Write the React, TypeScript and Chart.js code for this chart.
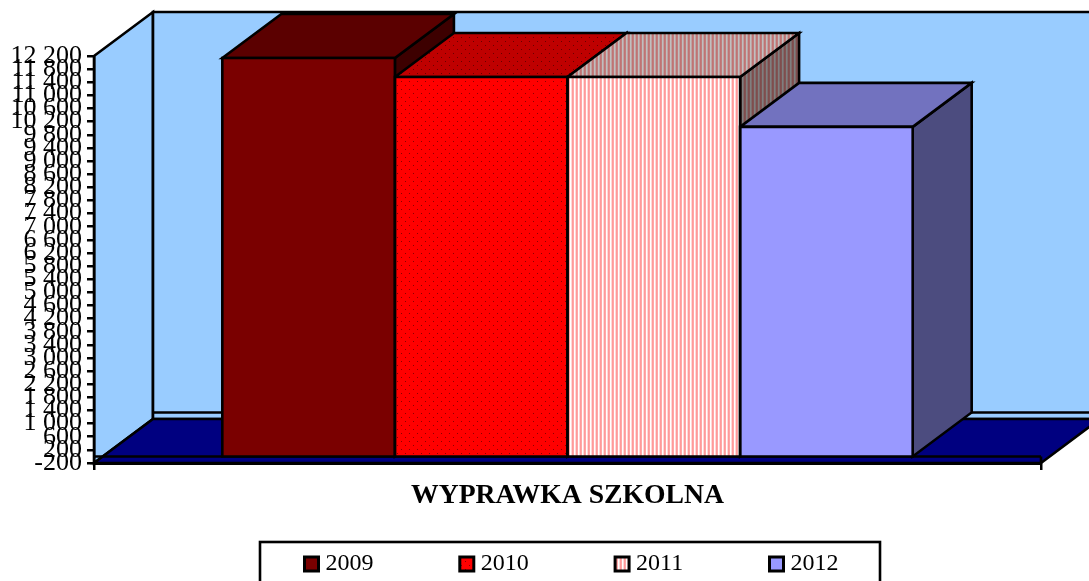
import React, { useEffect, useRef } from "react";
import { Chart, registerables } from "chart.js";

Chart.register(...registerables);

const categories = ["WYPRAWKA SZKOLNA"];
const seriesNames = ["2009", "2010", "2011", "2012"];
const values2009 = [12140];
const values2010 = [11560];
const values2011 = [11560];
const values2012 = [10040];
const axisMin = -200;
const axisMax = 12200;
const axisStep = 400;

const FONT = "'Liberation Serif', serif";
const DX = 59;
const DY = -44;
const LINE = 2.6;

function dotPattern(): CanvasPattern {
  const c = document.createElement("canvas");
  c.width = 8;
  c.height = 8;
  const x = c.getContext("2d")!;
  x.fillStyle = "#ff0000";
  x.fillRect(0, 0, 8, 8);
  x.fillStyle = "#8a0000";
  x.fillRect(1, 1, 1, 1);
  x.fillRect(5, 5, 1, 1);
  return x.createPattern(c, "repeat")!;
}

function stripePattern(): CanvasPattern {
  const c = document.createElement("canvas");
  c.width = 4;
  c.height = 1;
  const x = c.getContext("2d")!;
  ["#ff9a9a", "#ffa8a8", "#ffffff", "#ffd8d8"].forEach((col, i) => {
    x.fillStyle = col;
    x.fillRect(i, 0, 1, 1);
  });
  return x.createPattern(c, "repeat")!;
}

function poly(ctx: CanvasRenderingContext2D, pts: number[][], fill?: any, shade = 0, stroke = true) {
  ctx.beginPath();
  pts.forEach((p, i) => (i ? ctx.lineTo(p[0], p[1]) : ctx.moveTo(p[0], p[1])));
  ctx.closePath();
  if (fill) {
    ctx.fillStyle = fill;
    ctx.fill();
    if (shade) {
      ctx.fillStyle = `rgba(0,0,0,${shade})`;
      ctx.fill();
    }
  }
  if (stroke) {
    ctx.lineWidth = LINE;
    ctx.strokeStyle = "#000";
    ctx.lineJoin = "miter";
    ctx.stroke();
  }
}

const walls = {
  id: "walls3d",
  beforeDraw(chart: any) {
    const { ctx, chartArea, scales } = chart;
    const y = scales.y;
    const l = chartArea.left;
    const r = chartArea.right;
    const yTop = y.getPixelForValue(axisMax);
    const yBot = y.getPixelForValue(axisMin);
    const yZero = y.getPixelForValue(0);
    ctx.save();
    ctx.fillStyle = "#fff";
    ctx.fillRect(0, 0, chart.width, chart.height);
    // left wall
    poly(ctx, [[l, yTop], [l + DX, yTop + DY], [l + DX, yBot + DY], [l, yBot]], "#99ccff");
    // back wall
    poly(ctx, [[l + DX, yTop + DY], [r + DX, yTop + DY], [r + DX, yBot + DY], [l + DX, yBot + DY]], "#99ccff");
    // back wall base line
    ctx.beginPath();
    ctx.moveTo(l + DX, yZero + DY);
    ctx.lineTo(r + DX, yZero + DY);
    ctx.lineWidth = LINE;
    ctx.strokeStyle = "#000";
    ctx.stroke();
    // floor
    poly(ctx, [[l, yBot], [l + DX, yBot + DY], [r + DX, yBot + DY], [r, yBot]], "#000080");
    // front edge of the floor slab
    ctx.beginPath();
    ctx.moveTo(l, yZero);
    ctx.lineTo(r, yZero);
    ctx.moveTo(r, yZero);
    ctx.lineTo(r, yBot);
    ctx.stroke();
    ctx.restore();
  },
  beforeDatasetsDraw(chart: any) {
    const { ctx } = chart;
    ctx.save();
    chart.data.datasets.forEach((ds: any, i: number) => {
      const bar = chart.getDatasetMeta(i).data[0] as any;
      const left = bar.x - bar.width / 2;
      const right = bar.x + bar.width / 2;
      const top = bar.y;
      const base = bar.base;
      poly(ctx, [[right, top], [right + DX, top + DY], [right + DX, base + DY], [right, base]], ds.backgroundColor, 0.5);
      poly(ctx, [[left, top], [left + DX, top + DY], [right + DX, top + DY], [right, top]], ds.backgroundColor, 0.25);
    });
    ctx.restore();
  },
  afterDatasetsDraw(chart: any) {
    const { ctx } = chart;
    ctx.save();
    chart.data.datasets.forEach((_ds: any, i: number) => {
      const bar = chart.getDatasetMeta(i).data[0] as any;
      const left = bar.x - bar.width / 2;
      const right = bar.x + bar.width / 2;
      poly(ctx, [[left, bar.y], [right, bar.y], [right, bar.base], [left, bar.base]]);
    });
    ctx.restore();
  },
  afterLayout(chart: any) {
    const lg = chart.legend;
    if (lg) {
      lg.top = 552 - lg.options.labels.padding;
      lg.left += 53.5;
      lg.right += 53.5;
    }
  },
  afterDraw(chart: any) {
    const { ctx } = chart;
    ctx.save();
    ctx.lineWidth = LINE;
    ctx.strokeStyle = "#000";
    ctx.strokeRect(260, 542, 620, 60);
    ctx.restore();
  },
};

export default function App() {
  const ref = useRef<HTMLCanvasElement>(null);
  useEffect(() => {
    const colors = ["#7a0000", dotPattern(), stripePattern(), "#9999ff"];
    const seriesValues = [values2009, values2010, values2011, values2012];
    const chart = new Chart(ref.current!, {
      type: "bar",
      data: {
        labels: categories,
        datasets: seriesNames.map((name, i) => ({
          label: name,
          data: seriesValues[i],
          backgroundColor: colors[i] as any,
          borderWidth: 0,
          categoryPercentage: 0.729,
          barPercentage: 1,
        })),
      },
      options: {
        responsive: false,
        animation: false,
        devicePixelRatio: 1,
        layout: { padding: { left: 0, right: 48, top: 56, bottom: 0 } },
        scales: {
          x: {
            grid: { drawOnChartArea: false, color: "#000", lineWidth: 2.5, tickLength: 7 },
            border: { color: "#000", width: 3 },
            ticks: {
              color: "#000",
              font: { family: FONT, size: 27.7, weight: "bold" },
              padding: 9,
              maxRotation: 0,
            },
            afterFit(s: any) {
              s.height = 50;
            },
          },
          y: {
            min: axisMin,
            max: axisMax,
            grid: { drawOnChartArea: false, color: "#000", lineWidth: 2.5, tickLength: 7 },
            border: { color: "#000", width: 2.5 },
            ticks: {
              stepSize: axisStep,
              autoSkip: false,
              color: "#000",
              font: { family: FONT, size: 26 },
              padding: 5,
              callback: (v: any) => {
                const n = Number(v);
                const abs = Math.abs(n);
                const s = abs >= 1000 ? `${Math.floor(abs / 1000)} ${String(abs % 1000).padStart(3, "0")}` : String(abs);
                return n < 0 ? `-${s}` : s;
              },
            },
            afterFit(s: any) {
              s.width = 94;
            },
          },
        },
        plugins: {
          title: { display: false },
          tooltip: { enabled: false },
          legend: {
            display: true,
            position: "bottom",
            maxHeight: 68,
            labels: {
              color: "#000",
              font: { family: FONT, size: 24 },
              usePointStyle: true,
              pointStyle: "rect",
              boxWidth: 4,
              boxHeight: 14,
              padding: 91.3,
              generateLabels(chart: any) {
                return Chart.defaults.plugins.legend.labels.generateLabels(chart).map((item: any) => ({
                  ...item,
                  strokeStyle: "#000",
                  lineWidth: 3,
                }));
              },
            },
          } as any,
        },
      },
      plugins: [walls as any],
    });
    return () => chart.destroy();
  }, []);
  return (
    <div style={{ position: "fixed", left: 0, top: 0, width: 1089, height: 581, overflow: "hidden" }}>
      <canvas ref={ref} width={1089} height={581} style={{ display: "block" }} />
    </div>
  );
}
